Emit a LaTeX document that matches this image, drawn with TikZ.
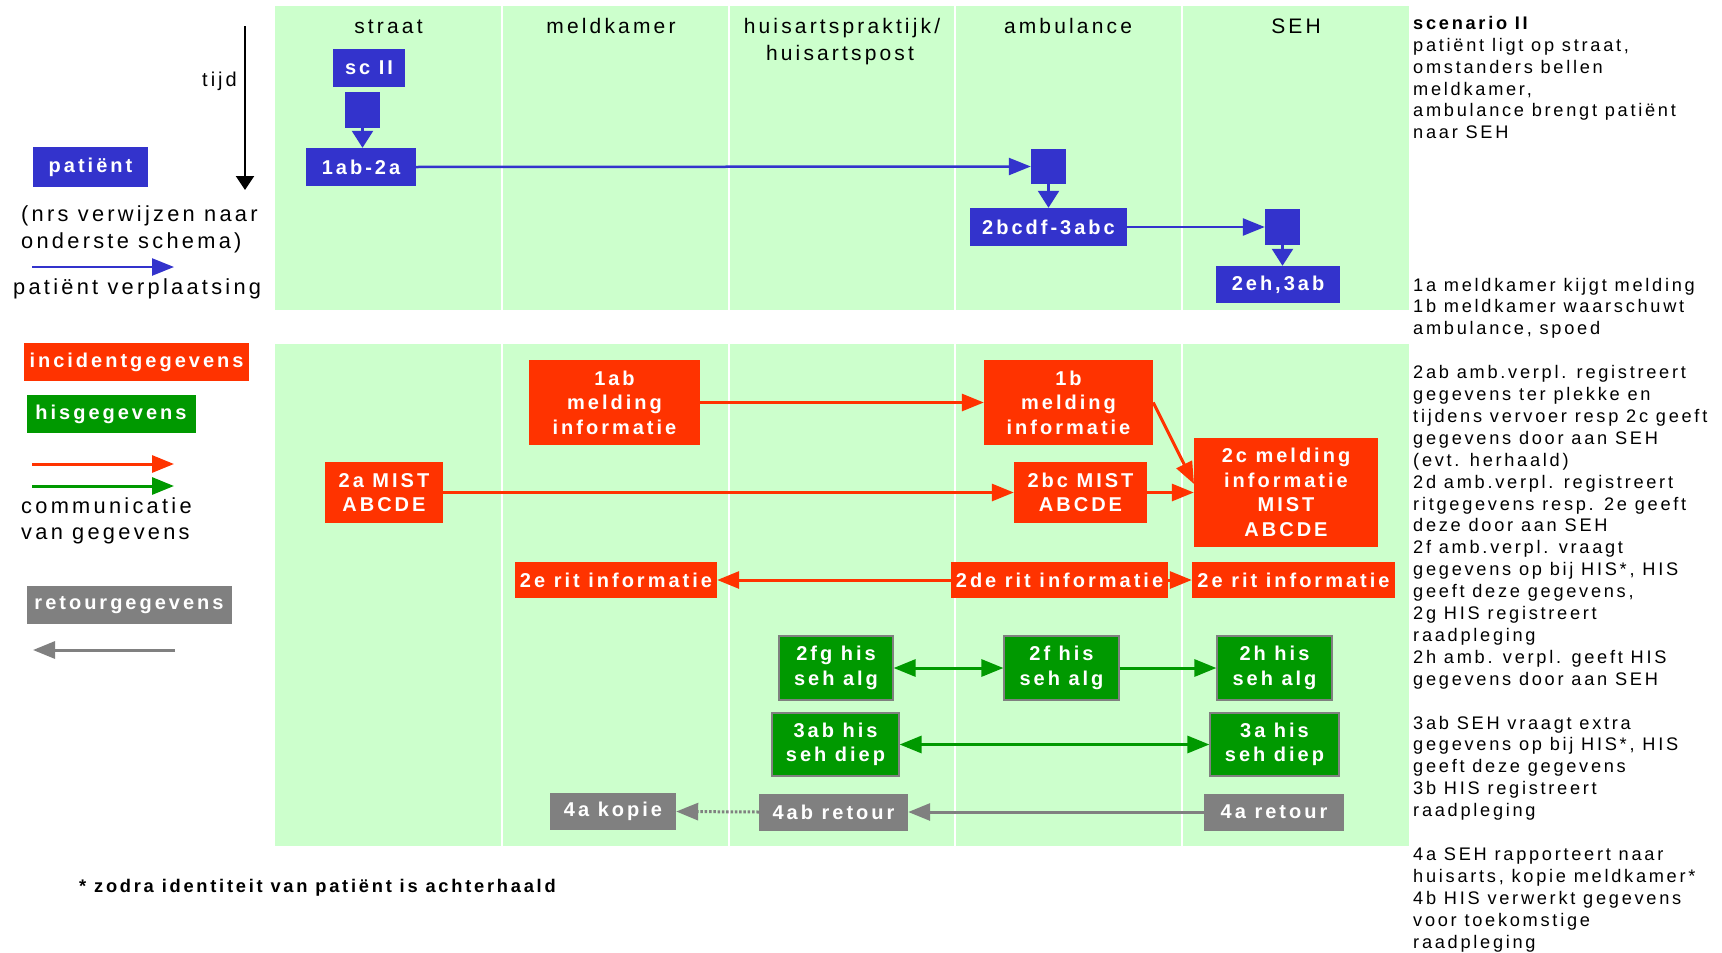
\documentclass[tikz,border=0pt]{standalone}
\usepackage{fontspec}
\setmainfont{Liberation Sans}
\newfontfamily\trk[LetterSpace=15]{Liberation Sans}
\usetikzlibrary{arrows.meta}
\definecolor{pblue}{HTML}{3333CC}
\definecolor{pred}{HTML}{FF3300}
\definecolor{pgreen}{HTML}{009900}
\definecolor{pgray}{HTML}{808080}
\definecolor{lane}{HTML}{CCFFCC}
\begin{document}
\begin{tikzpicture}[x=1pt,y=-1pt,
  bx/.style 2 args={rectangle,inner sep=0pt,minimum width=#1pt,minimum height=#2pt,text=white,align=center,font=\trk\bfseries\fontsize{20}{24.5}\selectfont},
  pat/.style={fill=pblue},
  inc/.style={fill=pred},
  his/.style={fill=pgreen,draw=pgray,line width=1.2pt},
  ret/.style={fill=pgray},
  head/.style={font=\trk\fontsize{21}{26}\selectfont,anchor=base,inner sep=0pt},
  ltxt/.style={font=\trk\fontsize{21.8}{27}\selectfont,anchor=base west,inner sep=0pt},
  rtxt/.style={font=\trk\fontsize{18.2}{21.9}\selectfont,anchor=base west,inner sep=0pt},
  tipH/.tip={Triangle[length=22pt,width=17pt]},
  tipV/.tip={Triangle[length=17pt,width=21pt]},
  barr/.style={draw=pblue,line width=2.5pt,-tipH},
  darr/.style={draw=pblue,line width=2.5pt,-tipV},
  rarr/.style={draw=pred,line width=3pt,-tipH},
  garr/.style={draw=pgreen,line width=3pt,-tipH},
  gdarr/.style={draw=pgreen,line width=3pt,tipH-tipH},
  karr/.style={draw=pgray,line width=3pt,-tipH},
  kdot/.style={draw=pgray,line width=3pt,dash pattern=on 2.5pt off 1.8pt,-tipH},
  tarr/.style={draw=black,line width=2pt,-{Triangle[length=14pt,width=18pt]}}
]
\useasboundingbox (0,0) rectangle (1722,953);
\fill[white] (0,0) rectangle (1722,953);

% lanes
\fill[lane] (275,5.5) rectangle (1409,310);
\fill[lane] (275,344) rectangle (1409,846);
\foreach \x in {502,729,955,1182}{
  \draw[white,line width=2pt] (\x,5.5) -- (\x,310);
  \draw[white,line width=2pt] (\x,344) -- (\x,846);
}

% headers
\node[head] (hstraat) at (388.5,34) {straat};
\node[head] (hmeld) at (611,34) {meldkamer};
\node[head] (hhuis1) at (842,33.5) {huisartspraktijk/};
\node[head] (hhuis2) at (840,60) {huisartspost};
\node[head] (hamb) at (1068,34) {ambulance};
\node[head] (hseh) at (1296,34) {SEH};

% left legend (top)
\coordinate (t0) at (245,26);
\coordinate (t1) at (245,190);
\draw[tarr] (t0) -- (t1);
\node[ltxt,anchor=base east,font=\trk\fontsize{20}{24}\selectfont] (tijd) at (237,86) {tijd};
\node[bx={115}{40},pat] (lpat) at (90.5,167) {patiënt};
\node[ltxt] (nrs1) at (21,221.5) {(nrs verwijzen naar};
\node[ltxt] (nrs2) at (21,248) {onderste schema)};
\coordinate (lb0) at (32,267);
\coordinate (lb1) at (174,267);
\draw[barr] (lb0) -- (lb1);
\node[ltxt] (verpl) at (13,294) {patiënt verplaatsing};

% top flow
\node[bx={72}{38},pat] (scII) at (369,68) {sc II};
\node[bx={35}{36},pat] (sq1) at (362.5,110) {};
\node[bx={110}{38},pat] (p1) at (361,167) {1ab-2a};
\node[bx={35}{35},pat] (sq2) at (1048.5,166.5) {};
\node[bx={157}{38},pat] (p2) at (1048.5,227) {2bcdf-3abc};
\node[bx={35}{36},pat] (sq3) at (1282.5,227) {};
\node[bx={124}{37},pat] (p3) at (1278,284.5) {2eh,3ab};
\draw[darr] (sq1.south) -- (sq1.south |- p1.north);
\draw[barr] (p1.east) -- (sq2.west);
\draw[darr] (sq2.south) -- (sq2.south |- p2.north);
\draw[barr] (p2.east) -- (sq3.west);
\draw[darr] (sq3.south) -- (sq3.south |- p3.north);

% left legend (bottom)
\node[bx={225}{38},inc] (linc) at (136.5,362) {incidentgegevens};
\node[bx={169}{38},his,draw=none] (lhis) at (111,414) {hisgegevens};
\coordinate (lr0) at (32,464);
\coordinate (lr1) at (174,464);
\coordinate (lg0) at (32,486);
\coordinate (lg1) at (174,486);
\draw[rarr] (lr0) -- (lr1);
\draw[garr] (lg0) -- (lg1);
\node[ltxt] (comm1) at (21,513) {communicatie};
\node[ltxt] (comm2) at (21,539) {van gegevens};
\node[bx={205}{38},ret] (lret) at (129,605) {retourgegevens};
\coordinate (lk0) at (175,650);
\coordinate (lk1) at (33,650);
\draw[karr] (lk0) -- (lk1);

% bottom flow
\node[bx={171}{85},inc] (b1ab) at (614.5,402.5) {1ab\\melding\\informatie};
\node[bx={169}{85},inc] (b1b) at (1068.5,402.5) {1b\\melding\\informatie};
\node[bx={118}{61},inc] (b2a) at (384,492.5) {2a MIST\\ABCDE};
\node[bx={133}{61},inc] (b2bc) at (1080.5,492.5) {2bc MIST\\ABCDE};
\node[bx={184}{109},inc] (b2c) at (1286,492.5) {2c melding\\informatie\\MIST\\ABCDE};
\node[bx={202}{36},inc] (b2e1) at (616,580) {2e rit informatie};
\node[bx={217}{36},inc] (b2de) at (1059.5,580) {2de rit informatie};
\node[bx={203}{36},inc] (b2e2) at (1293.5,580) {2e rit informatie};
\node[bx={114}{64},his] (b2fg) at (836,668) {2fg his\\seh alg};
\node[bx={115}{64},his] (b2f) at (1061.5,668) {2f his\\seh alg};
\node[bx={115}{64},his] (b2h) at (1274.5,668) {2h his\\seh alg};
\node[bx={127}{63},his] (b3ab) at (835.5,744.5) {3ab his\\seh diep};
\node[bx={129}{63},his] (b3a) at (1274.5,744.5) {3a his\\seh diep};
\node[bx={126}{37},ret] (b4ak) at (613,811.5) {4a kopie};
\node[bx={149}{37},ret] (b4ab) at (833.5,812) {4ab retour};
\node[bx={140}{37},ret] (b4ar) at (1274,812) {4a retour};

\coordinate (c2in) at (1194,484);
\draw[rarr] (b1ab.east) -- (b1b.west);
\draw[rarr] (b2a.east) -- (b2bc.west);
\draw[rarr] (b2bc.east) -- (b2c.west);
\draw[rarr] (b1b.east) -- (c2in);
\draw[rarr] (b2de.west) -- (b2e1.east);
\draw[rarr] (b2de.east) -- (b2e2.west);
\draw[gdarr] (b2fg.east) -- (b2f.west);
\draw[garr] (b2f.east) -- (b2h.west);
\draw[gdarr] (b3ab.east) -- (b3a.west);
\draw[karr] (b4ar.west) -- (b4ab.east);
\draw[kdot] (b4ab.west) -- (b4ak.east);

% footnote
\node[rtxt,font=\trk\bfseries\fontsize{18.3}{21.9}\selectfont] (foot) at (79,892) {* zodra identiteit van patiënt is achterhaald};

% right column
\node[rtxt,font=\trk\bfseries\fontsize{18.2}{21.9}\selectfont] (scen) at (1413,29.3) {scenario II};
\foreach \ln [count=\i from 1] in {{patiënt ligt op straat,},{omstanders bellen},{meldkamer,},{ambulance brengt patiënt},{naar SEH}}
  \node[rtxt] (ra\i) at (1413,29.3+21.9*\i) {\ln};
\foreach \ln [count=\i from 0] in {{1a meldkamer kijgt melding},{1b meldkamer waarschuwt},{ambulance, spoed}}
  \node[rtxt] (rb\i) at (1413,291+21.9*\i) {\ln};
\foreach \ln [count=\i from 4] in {{2ab amb.verpl. registreert},{gegevens ter plekke en},{tijdens vervoer resp 2c geeft},{gegevens door aan SEH},{(evt. herhaald)},{2d amb.verpl. registreert},{ritgegevens resp. 2e geeft},{deze door aan SEH},{2f amb.verpl. vraagt},{gegevens op bij HIS*, HIS},{geeft deze gegevens,},{2g HIS registreert},{raadpleging},{2h amb. verpl. geeft HIS},{gegevens door aan SEH}}
  \node[rtxt] (rc\i) at (1413,291+21.9*\i) {\ln};
\foreach \ln [count=\i from 20] in {{3ab SEH vraagt extra},{gegevens op bij HIS*, HIS},{geeft deze gegevens},{3b HIS registreert},{raadpleging}}
  \node[rtxt] (rd\i) at (1413,291+21.9*\i) {\ln};
\foreach \ln [count=\i from 26] in {{4a SEH rapporteert naar},{huisarts, kopie meldkamer*},{4b HIS verwerkt gegevens},{voor toekomstige},{raadpleging}}
  \node[rtxt] (re\i) at (1413,291+21.9*\i) {\ln};
\end{tikzpicture}
\end{document}
